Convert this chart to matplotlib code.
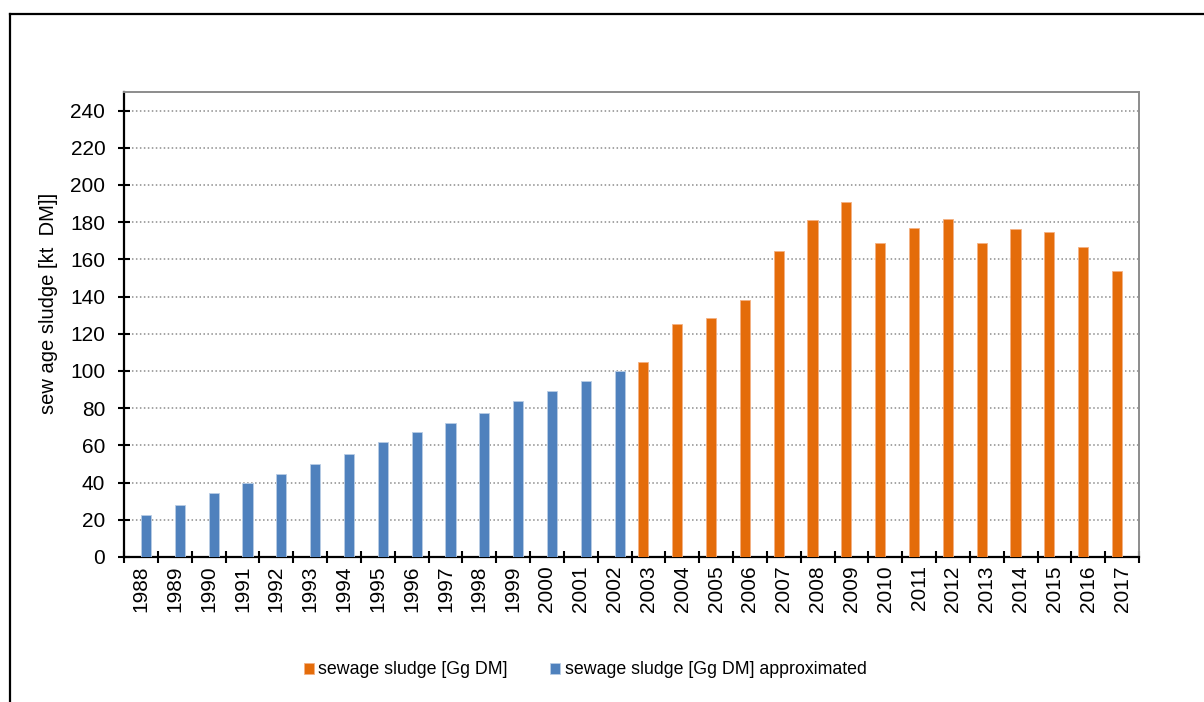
"""Sewage sludge bar chart (measured vs approximated)."""
import matplotlib
matplotlib.use("Agg")
import matplotlib.pyplot as plt
from matplotlib.lines import Line2D
import numpy as np

plt.rcParams["font.family"] = ["Liberation Sans", "DejaVu Sans"]

years = list(range(1988, 2018))
approx_years = list(range(1988, 2003))
approx_vals = [22.5, 27.9, 34.2, 39.6, 44.8, 50.0, 55.4, 61.7, 67.1, 72.3,
               77.6, 84.1, 89.3, 94.5, 99.9]
sludge_years = list(range(2003, 2018))
sludge_vals = [105.1, 125.3, 128.5, 138.0, 164.6, 181.3, 190.8, 168.7, 177.1,
               181.5, 168.6, 176.1, 175.0, 166.6, 153.9]

ORANGE = "#E46C0A"
BLUE = "#4F81BD"

fig = plt.figure(figsize=(12.04, 7.02), dpi=100)
ax = fig.add_axes([124 / 1204, 1 - 557 / 702, (1139 - 124) / 1204, (557 - 92) / 702])

w = 0.3
x_s = np.array([years.index(y) for y in sludge_years])
x_a = np.array([years.index(y) for y in approx_years])
ax.bar(x_s - w / 2, sludge_vals, width=w, color=ORANGE, edgecolor="#F4B183",
       linewidth=0.6, label="sewage sludge [Gg DM]", zorder=3)
ax.bar(x_a + w / 2, approx_vals, width=w, color=BLUE, edgecolor="#B9CDE5",
       linewidth=0.6, label="sewage sludge [Gg DM] approximated", zorder=3)

ax.set_xlim(-0.5, len(years) - 0.5)
ax.set_ylim(0, 250)
ax.set_yticks(np.arange(0, 241, 20))
ax.set_xticks(np.arange(len(years)))
ax.set_xticklabels([str(y) for y in years], rotation=90)
ax.set_xticks(np.arange(len(years) + 1) - 0.5, minor=True)
ax.tick_params(axis="x", which="major", length=0, pad=6, labelsize=15)
ax.tick_params(axis="x", which="minor", direction="inout", length=8.5, width=1.5)
ax.tick_params(axis="y", direction="inout", length=9, width=1.5, pad=9, labelsize=15)

ax.grid(axis="y", color="#8c8c8c", linestyle=(0, (1, 1.6)), linewidth=1.1)
ax.set_axisbelow(True)

for s in ("left", "bottom"):
    ax.spines[s].set_color("black")
    ax.spines[s].set_linewidth(1.6)
for s in ("top", "right"):
    ax.spines[s].set_color("#8c8c8c")
    ax.spines[s].set_linewidth(1.4)

ax.set_ylabel("sew age sludge [kt  DM]]", fontsize=14.5)
ax.yaxis.set_label_coords((58 - 124) / 1015, 0.546)

fig.legend(loc="center", bbox_to_anchor=(0.486, 1 - 670 / 702), ncol=2,
           frameon=False, fontsize=12.8, handlelength=0.55, handleheight=0.55,
           handletextpad=0.25, columnspacing=2.4)

# outer frame (cropped at right and bottom)
fig.add_artist(Line2D([10 / 1204, 10 / 1204], [0, 1 - 14 / 702], color="black", lw=1.6))
fig.add_artist(Line2D([10 / 1204, 1], [1 - 14 / 702, 1 - 14 / 702], color="black", lw=1.6))

fig.savefig("out.png", dpi=100)
plt.close(fig)
